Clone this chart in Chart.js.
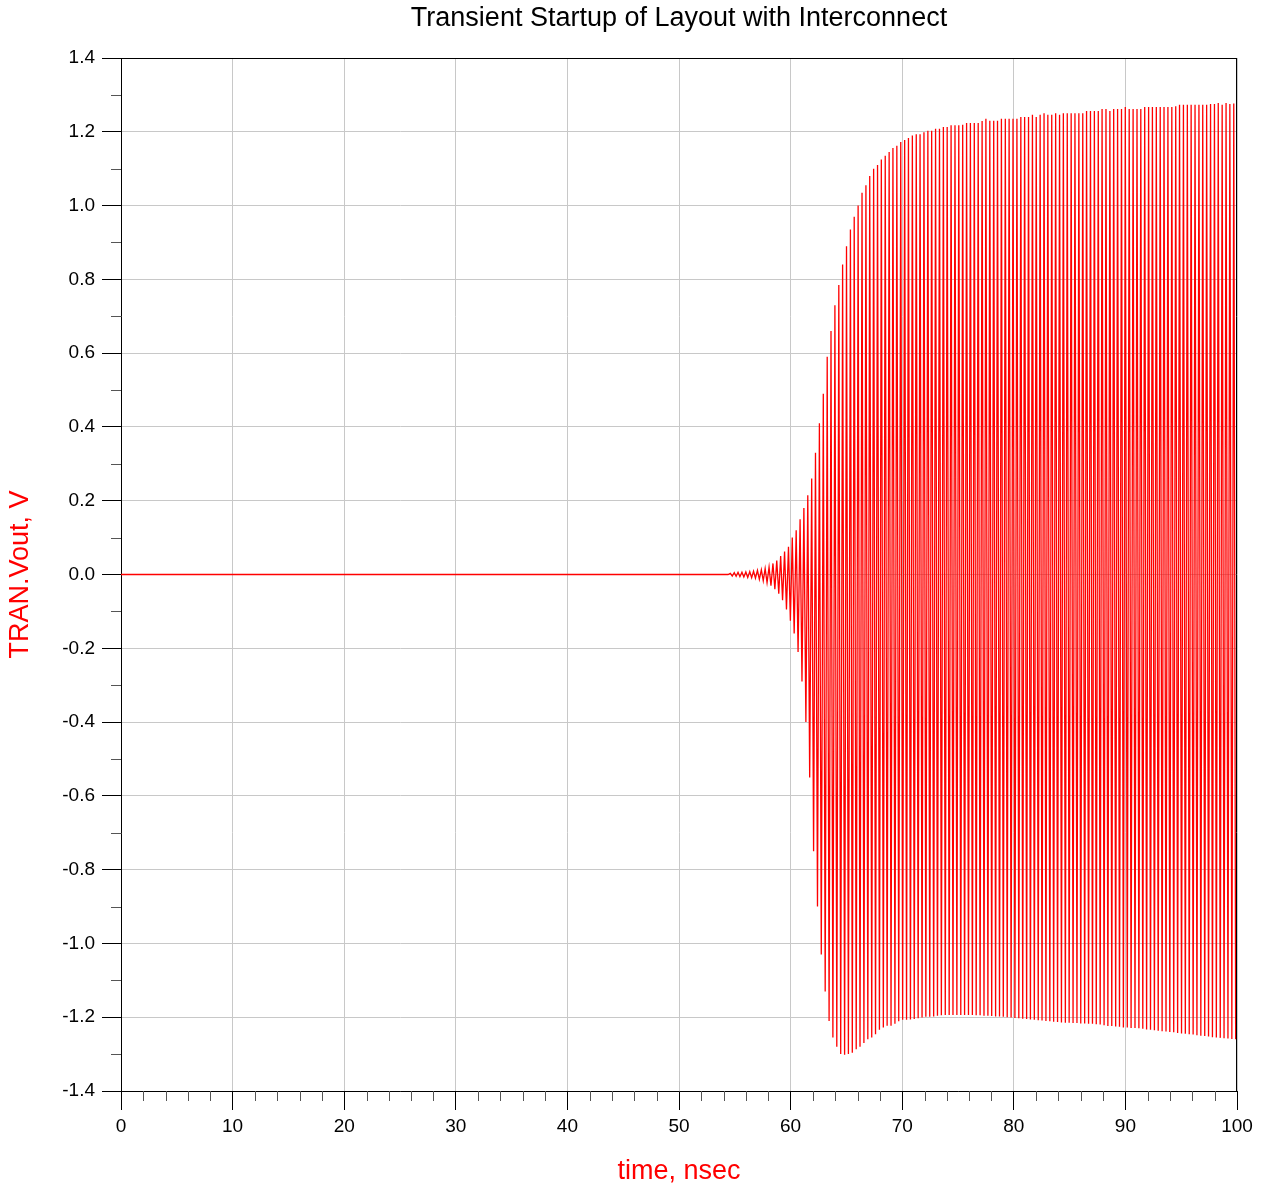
<!DOCTYPE html>
<html>
<head>
<meta charset="utf-8">
<script src="https://cdn.jsdelivr.net/npm/chart.js@4.4.1/dist/chart.umd.min.js"></script>
<style>
html,body{margin:0;padding:0;background:#fff;}
#wrap{width:1270px;height:1191px;position:relative;}
</style>
</head>
<body>
<div id="wrap"><canvas id="c" width="1270" height="1191"></canvas></div>
<script>
const titleText = 'Transient Startup of Layout with Interconnect';
const xAxisTitle = 'time, nsec';
const yAxisTitle = 'TRAN.Vout, V';
const xTicks = [0, 10, 20, 30, 40, 50, 60, 70, 80, 90, 100];
const yTicks = [-1.4, -1.2, -1.0, -0.8, -0.6, -0.4, -0.2, 0, 0.2, 0.4, 0.6, 0.8, 1.0, 1.2, 1.4];

// flat part before oscillation start (ns, V)
const quietTimes = [0, 54.4];
const quietValues = [0, 0];

// oscillation: time (ns) of each positive peak and its value (V)
const peakTimes = [
 54.60,54.95,55.29,55.64,55.99,56.34,56.68,57.03,57.38,57.72,
 58.07,58.42,58.76,59.11,59.46,59.81,60.15,60.50,60.85,61.19,
 61.54,61.89,62.23,62.58,62.93,63.28,63.62,63.97,64.32,64.66,
 65.01,65.36,65.70,66.05,66.40,66.75,67.09,67.44,67.79,68.13,
 68.48,68.83,69.17,69.52,69.87,70.22,70.56,70.91,71.26,71.60,
 71.95,72.30,72.64,72.99,73.34,73.69,74.03,74.38,74.73,75.07,
 75.42,75.77,76.11,76.46,76.81,77.16,77.50,77.85,78.20,78.54,
 78.89,79.24,79.58,79.93,80.28,80.63,80.97,81.32,81.67,82.01,
 82.36,82.71,83.05,83.40,83.75,84.10,84.44,84.79,85.14,85.48,
 85.83,86.18,86.52,86.87,87.22,87.57,87.91,88.26,88.61,88.95,
 89.30,89.65,89.99,90.34,90.69,91.04,91.38,91.73,92.08,92.42,
 92.77,93.12,93.46,93.81,94.16,94.51,94.85,95.20,95.55,95.89,
 96.24,96.59,96.93,97.28,97.63,97.98,98.32,98.67,99.02,99.36,
 99.71
];
const upperPeaks = [
 0.003,0.005,0.006,0.006,0.007,0.008,0.009,0.011,0.013,0.016,
 0.020,0.030,0.038,0.050,0.062,0.075,0.100,0.120,0.150,0.180,
 0.215,0.26,0.33,0.41,0.49,0.59,0.66,0.73,0.785,0.84,
 0.89,0.935,0.97,1.00,1.035,1.055,1.08,1.10,1.11,1.125,
 1.135,1.145,1.156,1.162,1.172,1.178,1.183,1.19,1.193,1.193,
 1.199,1.203,1.203,1.208,1.208,1.213,1.213,1.218,1.218,1.218,
 1.219,1.224,1.224,1.224,1.224,1.229,1.235,1.230,1.230,1.230,
 1.235,1.235,1.235,1.235,1.235,1.240,1.240,1.240,1.246,1.240,
 1.246,1.250,1.246,1.246,1.250,1.246,1.250,1.250,1.250,1.250,
 1.250,1.250,1.256,1.256,1.256,1.256,1.262,1.262,1.256,1.262,
 1.262,1.262,1.267,1.262,1.262,1.262,1.262,1.267,1.267,1.267,
 1.267,1.267,1.267,1.267,1.267,1.269,1.273,1.273,1.273,1.273,
 1.273,1.273,1.273,1.273,1.275,1.275,1.278,1.273,1.278,1.275,
 1.277
];
// time (ns) of each negative peak and its value (V)
const troughTimes = [
 54.77,55.12,55.46,55.81,56.16,56.51,56.85,57.20,57.55,57.89,
 58.24,58.59,58.94,59.28,59.63,59.98,60.32,60.67,61.02,61.37,
 61.71,62.06,62.41,62.75,63.10,63.45,63.79,64.14,64.49,64.84,
 65.18,65.53,65.88,66.22,66.57,66.92,67.27,67.61,67.96,68.31,
 68.65,69.00,69.35,69.69,70.04,70.39,70.74,71.08,71.43,71.78,
 72.12,72.47,72.82,73.16,73.51,73.86,74.21,74.55,74.90,75.25,
 75.59,75.94,76.29,76.63,76.98,77.33,77.68,78.02,78.37,78.72,
 79.06,79.41,79.76,80.10,80.45,80.80,81.15,81.49,81.84,82.19,
 82.53,82.88,83.23,83.57,83.92,84.27,84.62,84.96,85.31,85.66,
 86.00,86.35,86.70,87.05,87.39,87.74,88.09,88.43,88.78,89.13,
 89.47,89.82,90.17,90.51,90.86,91.21,91.56,91.90,92.25,92.60,
 92.94,93.29,93.64,93.98,94.33,94.68,95.03,95.37,95.72,96.07,
 96.41,96.76,97.11,97.45,97.80,98.15,98.50,98.84,99.19,99.54,
 99.88
];
const lowerPeaks = [
 -0.004,-0.005,-0.006,-0.007,-0.008,-0.009,-0.010,-0.013,-0.017,-0.022,
 -0.030,-0.040,-0.052,-0.070,-0.095,-0.125,-0.16,-0.21,-0.29,-0.40,
 -0.55,-0.75,-0.90,-1.03,-1.13,-1.21,-1.255,-1.28,-1.30,-1.302,
 -1.30,-1.296,-1.287,-1.28,-1.27,-1.26,-1.255,-1.246,-1.234,-1.228,
 -1.223,-1.223,-1.218,-1.211,-1.207,-1.207,-1.206,-1.205,-1.203,-1.201,
 -1.199,-1.199,-1.198,-1.196,-1.195,-1.194,-1.194,-1.194,-1.194,-1.194,
 -1.194,-1.194,-1.194,-1.195,-1.195,-1.196,-1.196,-1.197,-1.198,-1.198,
 -1.199,-1.200,-1.201,-1.202,-1.203,-1.204,-1.205,-1.206,-1.207,-1.208,
 -1.209,-1.210,-1.211,-1.212,-1.213,-1.214,-1.215,-1.215,-1.216,-1.216,
 -1.217,-1.217,-1.218,-1.218,-1.219,-1.220,-1.222,-1.224,-1.224,-1.225,
 -1.226,-1.228,-1.228,-1.229,-1.229,-1.230,-1.231,-1.233,-1.234,-1.235,
 -1.237,-1.238,-1.239,-1.240,-1.241,-1.243,-1.244,-1.245,-1.246,-1.247,
 -1.249,-1.250,-1.251,-1.252,-1.254,-1.255,-1.256,-1.257,-1.258,-1.259,
 -1.260
];

// ---- build the dataset from the arrays ----
const points = [];
for (let i = 0; i < quietTimes.length; i++) points.push({x: quietTimes[i], y: quietValues[i]});
const n = Math.min(peakTimes.length, upperPeaks.length, troughTimes.length, lowerPeaks.length);
for (let i = 0; i < n; i++) {
  points.push({x: peakTimes[i], y: upperPeaks[i]});
  points.push({x: troughTimes[i], y: lowerPeaks[i]});
}

const FONT = '"Liberation Sans", Arial, Helvetica, sans-serif';

const framePlugin = {
  id: 'frameAndMinorTicks',
  afterDraw(chart) {
    const {ctx, chartArea: a, scales} = chart;
    ctx.save();
    ctx.lineWidth = 1;
    // top and right frame
    ctx.strokeStyle = '#000';
    ctx.beginPath();
    const top = Math.round(a.top) + 0.5, right = Math.round(a.right) - 0.5;
    ctx.moveTo(Math.round(a.left), top); ctx.lineTo(Math.round(a.right), top);
    ctx.moveTo(right, Math.round(a.top)); ctx.lineTo(right, Math.round(a.bottom));
    ctx.stroke();
    // minor ticks
    ctx.strokeStyle = '#555';
    ctx.beginPath();
    const ys = scales.y, xs = scales.x;
    for (let k = -13; k <= 13; k += 2) {
      const py = Math.round(ys.getPixelForValue(k / 10)) + 0.5;
      ctx.moveTo(a.left - 10, py); ctx.lineTo(a.left, py);
    }
    for (let k = 0; k <= 100; k += 2) {
      if (k % 10 === 0) continue;
      const px = Math.round(xs.getPixelForValue(k)) + 0.5;
      ctx.moveTo(px, a.bottom); ctx.lineTo(px, a.bottom + 10);
    }
    ctx.stroke();
    ctx.restore();
  }
};

new Chart(document.getElementById('c'), {
  type: 'line',
  data: {
    datasets: [{
      data: points,
      borderColor: '#ff0000',
      borderWidth: 1.3,
      pointRadius: 0,
      tension: 0,
      fill: false
    }]
  },
  options: {
    responsive: false,
    animation: false,
    events: [],
    layout: {padding: {left: 0, right: 33, top: 0, bottom: 0}},
    plugins: {
      legend: {display: false},
      tooltip: {enabled: false},
      title: {
        display: true,
        fullSize: false,
        text: titleText,
        color: '#000',
        font: {family: FONT, size: 27, weight: 'normal'},
        padding: {top: 2, bottom: 23.6}
      }
    },
    scales: {
      x: {
        type: 'linear',
        min: 0, max: 100,
        afterBuildTicks: s => { s.ticks = xTicks.map(v => ({value: v})); },
        afterFit: s => { s.height = 100; },
        ticks: {
          color: '#000',
          font: {family: FONT, size: 19},
          padding: 5,
          maxRotation: 0,
          autoSkip: false,
          callback: v => String(v)
        },
        grid: {color: '#c8c8c8', tickColor: '#000', tickLength: 19, drawTicks: true, lineWidth: 1},
        border: {color: '#000', width: 1},
        title: {
          display: true, text: xAxisTitle, color: '#ff0000',
          font: {family: FONT, size: 27, weight: 'normal'},
          padding: {top: 0, bottom: 3}
        }
      },
      y: {
        type: 'linear',
        min: -1.4, max: 1.4,
        afterBuildTicks: s => { s.ticks = yTicks.map(v => ({value: v})); },
        afterFit: s => { s.width = 121; },
        ticks: {
          color: '#000',
          font: {family: FONT, size: 19},
          padding: 7,
          autoSkip: false,
          callback: v => Number(v).toFixed(1)
        },
        grid: {color: '#c8c8c8', tickColor: '#000', tickLength: 19, drawTicks: true, lineWidth: 1},
        border: {color: '#000', width: 1},
        title: {
          display: true, text: yAxisTitle, color: '#ff0000',
          font: {family: FONT, size: 27, weight: 'normal'},
          padding: {top: 4, bottom: 0}
        }
      }
    }
  },
  plugins: [framePlugin]
});
</script>
</body>
</html>
